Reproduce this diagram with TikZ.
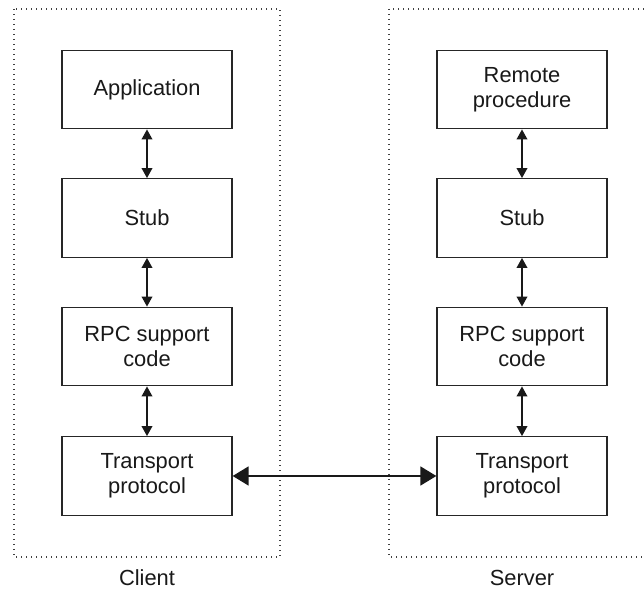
\documentclass[tikz,border=0pt]{standalone}
\usepackage{fontspec}
\setmainfont{Liberation Sans}
\usetikzlibrary{arrows.meta}
\begin{document}
\begin{tikzpicture}[x=0.75pt,y=-0.75pt,
  layer/.style={draw=black!85,line width=0.9pt,minimum width=127.5pt,minimum height=59pt,
    inner sep=0pt,align=center,font=\fontsize{16.4}{18.8}\selectfont,text=black!90},
  frame/.style={draw=black!75,line width=1.2pt,dash pattern=on 1pt off 2.75pt},
  link/.style={line width=1.1pt,draw=black!90,{Triangle[length=7.5pt,width=8pt]}-{Triangle[length=7.5pt,width=8pt]}},
  wire/.style={line width=2pt,draw=black!90,{Triangle[length=12pt,width=14pt]}-{Triangle[length=12pt,width=14pt]}},
  caption/.style={font=\fontsize{16.4}{18.8}\selectfont,text=black!90}]
\useasboundingbox (0,0) rectangle (644,591);
\fill[white] (0,0) rectangle (644,591);
% frames
\draw[frame] (14,9) rectangle (280,557);
\draw[frame] (644,9) -- (389,9) -- (389,557) -- (644,557);
% client
\node[layer] (ca) at (147,89.5) {Application};
\node[layer] (cs) at (147,218) {Stub};
\node[layer] (cr) at (147,346.5) {RPC support\\code};
\node[layer] (ct) at (147,476) {Transport\\protocol};
% server
\node[layer] (sa) at (522,89.5) {Remote\\procedure};
\node[layer] (ss) at (522,218) {Stub};
\node[layer] (sr) at (522,346.5) {RPC support\\code};
\node[layer] (st) at (522,476) {Transport\\protocol};
% arrows
\draw[link] (ca) -- (cs);
\draw[link] (cs) -- (cr);
\draw[link] (cr) -- (ct);
\draw[link] (sa) -- (ss);
\draw[link] (ss) -- (sr);
\draw[link] (sr) -- (st);
\draw[wire] (ct) -- (st);
% captions
\node[caption] (cl) at (147,578) {Client};
\node[caption] (sl) at (522,578) {Server};
\end{tikzpicture}
\end{document}
